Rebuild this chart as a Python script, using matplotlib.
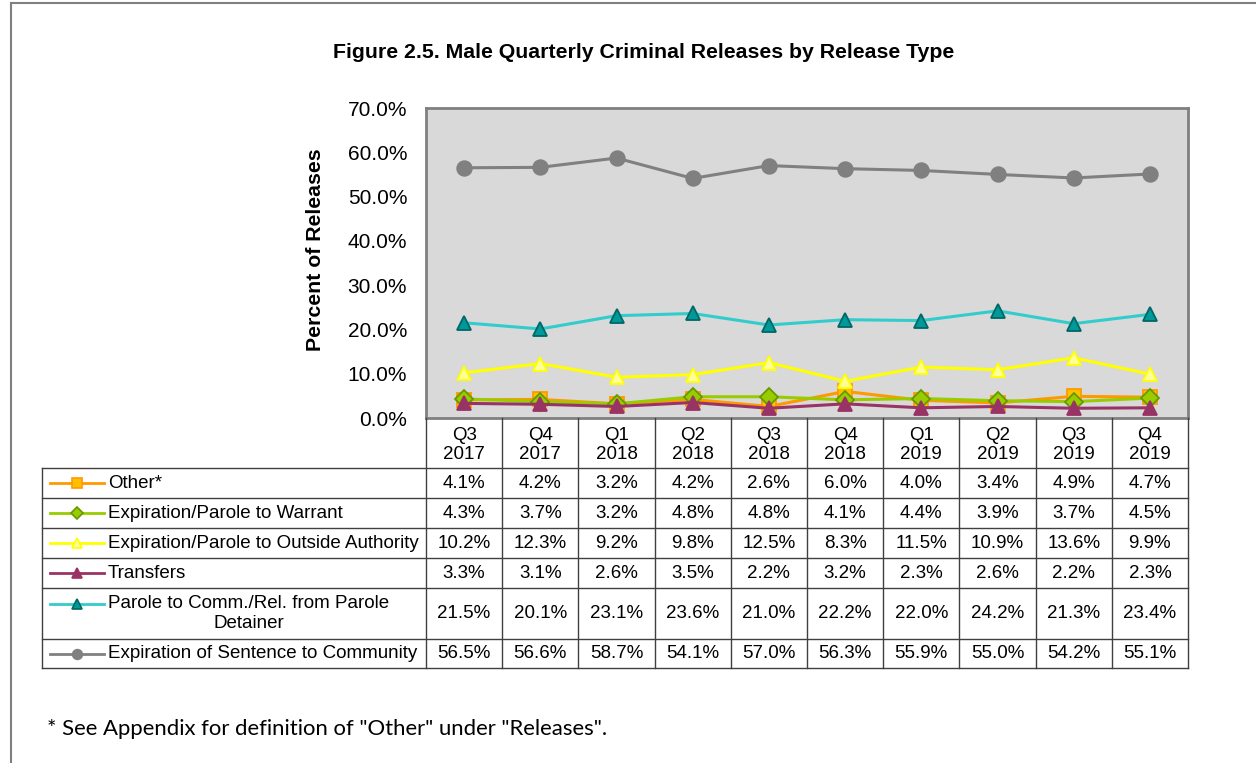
import matplotlib
matplotlib.use("Agg")
import matplotlib.pyplot as plt
from matplotlib.lines import Line2D
from matplotlib.ticker import FuncFormatter
import matplotlib.transforms as mtransforms

quarters = ["Q3\n2017", "Q4\n2017", "Q1\n2018", "Q2\n2018", "Q3\n2018",
            "Q4\n2018", "Q1\n2019", "Q2\n2019", "Q3\n2019", "Q4\n2019"]

other = [4.1, 4.2, 3.2, 4.2, 2.6, 6.0, 4.0, 3.4, 4.9, 4.7]
warrant = [4.3, 3.7, 3.2, 4.8, 4.8, 4.1, 4.4, 3.9, 3.7, 4.5]
outside = [10.2, 12.3, 9.2, 9.8, 12.5, 8.3, 11.5, 10.9, 13.6, 9.9]
transfers = [3.3, 3.1, 2.6, 3.5, 2.2, 3.2, 2.3, 2.6, 2.2, 2.3]
parole = [21.5, 20.1, 23.1, 23.6, 21.0, 22.2, 22.0, 24.2, 21.3, 23.4]
expiration = [56.5, 56.6, 58.7, 54.1, 57.0, 56.3, 55.9, 55.0, 54.2, 55.1]

series_names = ["Other*", "Expiration/Parole to Warrant",
                "Expiration/Parole to Outside Authority", "Transfers",
                "Parole to Comm./Rel. from Parole\nDetainer",
                "Expiration of Sentence to Community"]
series_values = [other, warrant, outside, transfers, parole, expiration]

# line color, marker, face, edge
styles = [
    ("#FF9900", "s", "#FFC000", "#FF9900"),
    ("#99CC00", "D", "#99CC00", "#669900"),
    ("#FFFF00", "^", "#FFFF99", "#FFFF00"),
    ("#993366", "^", "#993366", "#993366"),
    ("#33CCCC", "^", "#009999", "#006666"),
    ("#808080", "o", "#808080", "#808080"),
]

plt.rcParams["font.family"] = ["Liberation Sans", "DejaVu Sans"]

W, H = 1256, 763
fig = plt.figure(figsize=(W / 100, H / 100), dpi=100)

def fx(px):
    return px / W

def fy(py):
    return 1 - py / H

# page border
fig.add_artist(Line2D([fx(11), fx(11)], [fy(3), fy(763)], color="#808080", lw=1.5))
fig.add_artist(Line2D([fx(11), fx(1256)], [fy(3), fy(3)], color="#808080", lw=1.5))

left, right, top, bottom = 426, 1188, 108, 418
ax = fig.add_axes([fx(left), fy(bottom), fx(right - left), (bottom - top) / H])
ax.set_facecolor("#D9D9D9")
x = list(range(len(quarters)))
for vals, (lc, mk, fc, ec) in zip(series_values, styles):
    ax.plot(x, vals, color=lc, lw=2.2, marker=mk, markersize=10.5 if mk != "D" else 9.5,
            markerfacecolor=fc, markeredgecolor=ec, markeredgewidth=1.3)
ax.set_xlim(-0.5, 9.5)
ax.set_ylim(0, 70)
ax.set_yticks(range(0, 71, 10))
ax.yaxis.set_major_formatter(FuncFormatter(lambda v, p: f"{v:.1f}%"))
ax.tick_params(axis="y", length=0, labelsize=15, pad=13.5)
ax.set_xticks([])
for s in ax.spines.values():
    s.set_color("#808080")
    s.set_linewidth(2)
fig.text(fx(315), fy(250), "Percent of Releases", rotation=90, ha="center", va="center",
         fontsize=15.3, fontweight="bold")

fig.text(fx(644), fy(52), "Figure 2.5. Male Quarterly Criminal Releases by Release Type",
         ha="center", va="center", fontsize=15.3, fontweight="bold")

# data table below the plot
bt = mtransforms.blended_transform_factory(ax.transData, fig.transFigure)
row_edges = [468, 498, 528, 558, 588, 639, 668]
lc_tab = "#404040"
# header row
for i, q in enumerate(quarters):
    fig.text(i, fy((418 + 468) / 2 + 2), q, transform=bt, ha="center", va="center",
             fontsize=13.5, linespacing=1.2)
for i in range(len(quarters) + 1):
    fig.add_artist(Line2D([i - 0.5, i - 0.5], [fy(418), fy(668)], transform=bt,
                          color=lc_tab, lw=1))
for ry in row_edges:
    fig.add_artist(Line2D([fx(42), fx(right)], [fy(ry), fy(ry)], color=lc_tab, lw=1))
fig.add_artist(Line2D([fx(42), fx(42)], [fy(468), fy(668)], color=lc_tab, lw=1))

for r, (name, vals, (lc, mk, fc, ec)) in enumerate(zip(series_names, series_values, styles)):
    yc = fy((row_edges[r] + row_edges[r + 1]) / 2)
    ykey = yc if "\n" not in name else fy(row_edges[r] + 16)
    fig.add_artist(Line2D([fx(50), fx(104)], [ykey, ykey], color=lc, lw=2))
    fig.add_artist(Line2D([fx(77)], [ykey], marker=mk, markersize=7 if mk != "D" else 6,
                          markerfacecolor=fc, markeredgecolor=ec, markeredgewidth=1.2))
    fig.text(fx(108), yc, name, ha="left", va="center", fontsize=13.5,
             multialignment="center", linespacing=1.2)
    for i, v in enumerate(vals):
        fig.text(i, yc, f"{v:.1f}%", transform=bt, ha="center", va="center", fontsize=13.5)

fig.text(fx(47), fy(729), '* See Appendix for definition of "Other" under "Releases".',
         ha="left", va="center", fontsize=15.9, family=["Lato", "DejaVu Sans"])

fig.savefig("out.png", dpi=100)
